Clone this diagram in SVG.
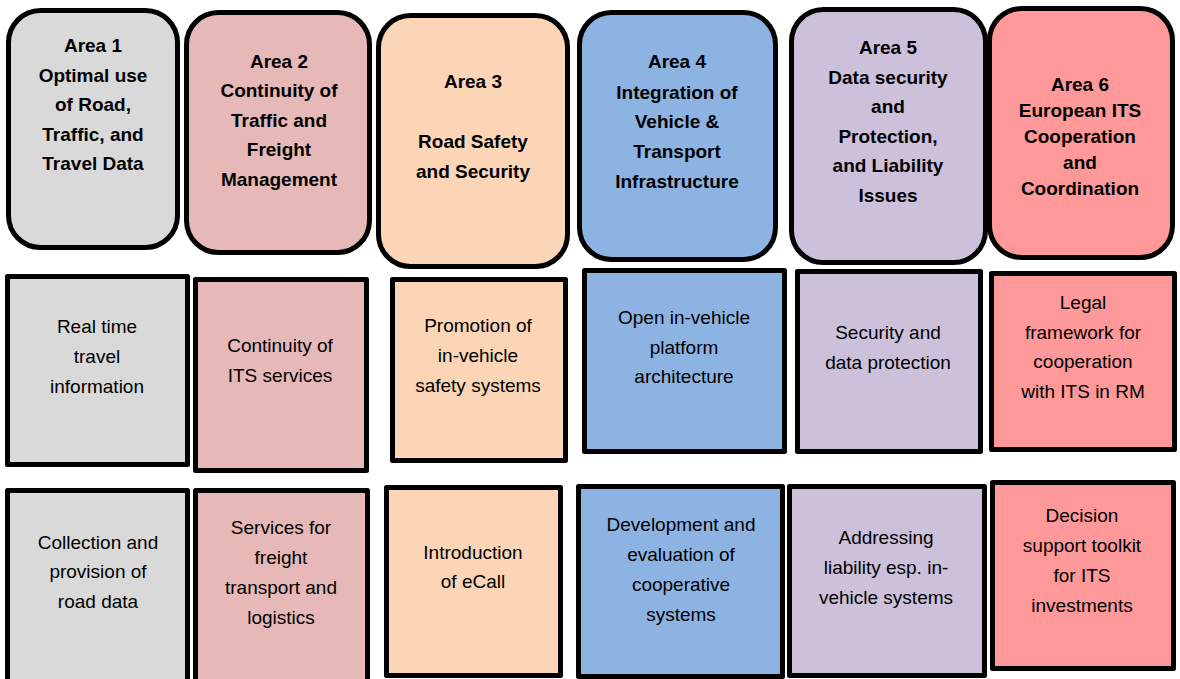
<svg xmlns="http://www.w3.org/2000/svg" width="1180" height="679" viewBox="0 0 1180 679">
<style>
  .box { stroke: #000; stroke-width: 5; stroke-linejoin: round; }
  .area { stroke: #000; stroke-width: 5; }
  .hd { font-family: "Liberation Sans", Arial, sans-serif; font-weight: bold; font-size: 19px; fill: #000; text-anchor: middle; }
  .tx { font-family: "Liberation Sans", Arial, sans-serif; font-size: 19px; fill: #000; text-anchor: middle; }
  .c1 { fill: #D9D9D9; }
  .c2 { fill: #E6B8B7; }
  .c3 { fill: #FBD5B5; }
  .c4 { fill: #8DB3E2; }
  .c5 { fill: #CCC0DA; }
  .c6 { fill: #FF9999; }
</style>
<rect width="1180" height="679" fill="#FFFFFF"/>
<g id="connectors"></g>

<!-- Top row: areas -->
<g id="area1">
  <rect class="area c1" x="8.5" y="10.5" width="169" height="237" rx="32"/>
  <text class="hd" x="93"><tspan x="93" y="52">Area 1</tspan><tspan x="93" y="81.5">Optimal use</tspan><tspan x="93" y="111">of Road,</tspan><tspan x="93" y="140.5">Traffic, and</tspan><tspan x="93" y="170">Travel Data</tspan></text>
</g>
<g id="area2">
  <rect class="area c2" x="186.5" y="12.5" width="183" height="240" rx="32"/>
  <text class="hd"><tspan x="279" y="68">Area 2</tspan><tspan x="279" y="97">Continuity of</tspan><tspan x="279" y="126.5">Traffic and</tspan><tspan x="279" y="156">Freight</tspan><tspan x="279" y="185.5">Management</tspan></text>
</g>
<g id="area3">
  <rect class="area c3" x="378.5" y="15.5" width="189" height="251" rx="32"/>
  <text class="hd"><tspan x="473" y="88">Area 3</tspan><tspan x="473" y="148">Road Safety</tspan><tspan x="473" y="177.5">and Security</tspan></text>
</g>
<g id="area4">
  <rect class="area c4" x="579.5" y="12.5" width="196" height="247" rx="32"/>
  <text class="hd"><tspan x="677" y="68">Area 4</tspan><tspan x="677" y="98.5">Integration of</tspan><tspan x="677" y="128">Vehicle &amp;</tspan><tspan x="677" y="158">Transport</tspan><tspan x="677" y="188">Infrastructure</tspan></text>
</g>
<g id="area5">
  <rect class="area c5" x="791.5" y="9.5" width="194" height="253" rx="32"/>
  <text class="hd"><tspan x="888" y="54">Area 5</tspan><tspan x="888" y="83.5">Data security</tspan><tspan x="888" y="113">and</tspan><tspan x="888" y="142.5">Protection,</tspan><tspan x="888" y="172">and Liability</tspan><tspan x="888" y="201.5">Issues</tspan></text>
</g>
<g id="area6">
  <rect class="area c6" x="989.5" y="8.5" width="183" height="249" rx="32"/>
  <text class="hd"><tspan x="1080" y="91">Area 6</tspan><tspan x="1080" y="117">European ITS</tspan><tspan x="1080" y="143">Cooperation</tspan><tspan x="1080" y="169">and</tspan><tspan x="1080" y="195">Coordination</tspan></text>
</g>

<!-- Second row -->
<g id="realtime">
  <rect class="box c1" x="7.5" y="276.5" width="180" height="188"/>
  <text class="tx"><tspan x="97" y="333">Real time</tspan><tspan x="97" y="363">travel</tspan><tspan x="97" y="393">information</tspan></text>
</g>
<g id="continuity">
  <rect class="box c2" x="195.5" y="279.5" width="171" height="191"/>
  <text class="tx"><tspan x="280" y="352">Continuity of</tspan><tspan x="280" y="382">ITS services</tspan></text>
</g>
<g id="promotion">
  <rect class="box c3" x="392.5" y="279.5" width="173" height="181"/>
  <text class="tx"><tspan x="478" y="332">Promotion of</tspan><tspan x="478" y="362">in-vehicle</tspan><tspan x="478" y="392">safety systems</tspan></text>
</g>
<g id="openplatform">
  <rect class="box c4" x="584.5" y="270.5" width="200" height="181"/>
  <text class="tx"><tspan x="684" y="324">Open in-vehicle</tspan><tspan x="684" y="354">platform</tspan><tspan x="684" y="383">architecture</tspan></text>
</g>
<g id="security">
  <rect class="box c5" x="797.5" y="271.5" width="183" height="180"/>
  <text class="tx"><tspan x="888" y="339">Security and</tspan><tspan x="888" y="369">data protection</tspan></text>
</g>
<g id="legal">
  <rect class="box c6" x="991.5" y="273.5" width="183" height="176"/>
  <text class="tx"><tspan x="1083" y="309">Legal</tspan><tspan x="1083" y="339">framework for</tspan><tspan x="1083" y="368">cooperation</tspan><tspan x="1083" y="398">with ITS in RM</tspan></text>
</g>

<!-- Third row -->
<g id="collection">
  <rect class="box c1" x="7.5" y="490.5" width="180" height="200"/>
  <text class="tx"><tspan x="98" y="549">Collection and</tspan><tspan x="98" y="578">provision of</tspan><tspan x="98" y="608">road data</tspan></text>
</g>
<g id="freight">
  <rect class="box c2" x="195.5" y="490.5" width="172" height="200"/>
  <text class="tx"><tspan x="281" y="534">Services for</tspan><tspan x="281" y="564">freight</tspan><tspan x="281" y="594">transport and</tspan><tspan x="281" y="624">logistics</tspan></text>
</g>
<g id="ecall">
  <rect class="box c3" x="386.5" y="487.5" width="174" height="188"/>
  <text class="tx"><tspan x="473" y="559">Introduction</tspan><tspan x="473" y="588">of eCall</tspan></text>
</g>
<g id="cooperative">
  <rect class="box c4" x="578.5" y="486.5" width="204" height="190"/>
  <text class="tx"><tspan x="681" y="531">Development and</tspan><tspan x="681" y="561">evaluation of</tspan><tspan x="681" y="591">cooperative</tspan><tspan x="681" y="621">systems</tspan></text>
</g>
<g id="liability">
  <rect class="box c5" x="789.5" y="486.5" width="195" height="189"/>
  <text class="tx"><tspan x="886" y="544">Addressing</tspan><tspan x="886" y="574">liability esp. in-</tspan><tspan x="886" y="604">vehicle systems</tspan></text>
</g>
<g id="decision">
  <rect class="box c6" x="992.5" y="482.5" width="181" height="186"/>
  <text class="tx"><tspan x="1082" y="522">Decision</tspan><tspan x="1082" y="552">support toolkit</tspan><tspan x="1082" y="582">for ITS</tspan><tspan x="1082" y="612">investments</tspan></text>
</g>
</svg>
